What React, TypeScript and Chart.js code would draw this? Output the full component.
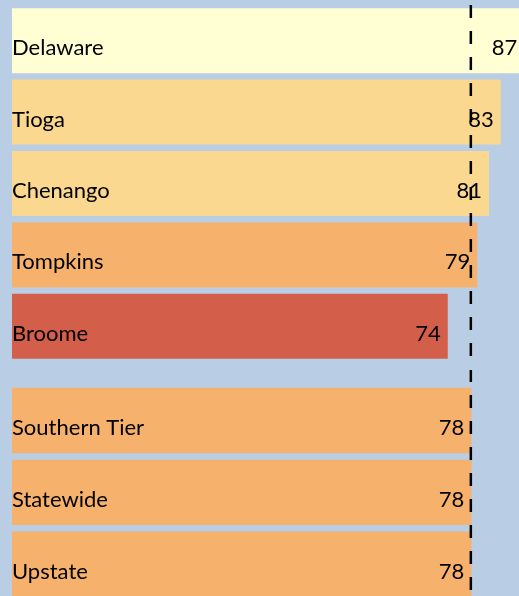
import React, { useEffect, useRef } from "react";
import { Chart, registerables } from "chart.js";

Chart.register(...registerables);

const topCategories = ["Delaware", "Tioga", "Chenango", "Tompkins", "Broome"];
const topValues = [87, 83, 81, 79, 74];
const topColors = ["#ffffd3", "#fbd88f", "#fbd88f", "#f6b26d", "#d35f4b"];

const bottomCategories = ["Southern Tier", "Statewide", "Upstate"];
const bottomValues = [78, 78, 78];
const bottomColors = ["#f6b26d", "#f6b26d", "#f6b26d"];

const referenceValue = 78;
const xMax = 90;

const BG = "#b9cde5";
const FONT = "22px Lato, 'Open Sans', sans-serif";

function makePlugin(canvasTop: number) {
  return {
    id: "labelsAndRef",
    afterDatasetsDraw(chart: any) {
      const ctx = chart.ctx;
      const meta = chart.getDatasetMeta(0);
      const ds = chart.data.datasets[0];
      const labels = chart.data.labels as string[];
      const area = chart.chartArea;
      ctx.save();
      ctx.font = FONT;
      ctx.fillStyle = "#000";
      ctx.textBaseline = "alphabetic";
      meta.data.forEach((bar: any, i: number) => {
        const y = bar.y + 14.5;
        ctx.textAlign = "left";
        ctx.fillText(labels[i], area.left, y);
        ctx.textAlign = "right";
        ctx.fillText(String(ds.data[i]), bar.x - 7, y);
      });
      // reference line
      const xs = chart.scales.x.getPixelForValue(referenceValue) - 0.5;
      const startGlobal = 5;
      const startLocal = Math.max(0, startGlobal - canvasTop);
      ctx.strokeStyle = "#000";
      ctx.lineWidth = 2.5;
      ctx.setLineDash([13, 13]);
      ctx.lineDashOffset = canvasTop + startLocal - startGlobal;
      ctx.beginPath();
      ctx.moveTo(xs, startLocal);
      ctx.lineTo(xs, chart.height);
      ctx.stroke();
      ctx.restore();
    },
  };
}

function BarPanel(props: {
  labels: string[];
  values: number[];
  colors: string[];
  top: number;
  height: number;
  padTop: number;
  padBottom: number;
}) {
  const ref = useRef<HTMLCanvasElement | null>(null);
  useEffect(() => {
    if (!ref.current) return;
    const chart = new Chart(ref.current, {
      type: "bar",
      data: {
        labels: props.labels,
        datasets: [
          {
            data: props.values,
            backgroundColor: props.colors,
            borderWidth: 0,
            categoryPercentage: 1,
            barPercentage: 0.91,
          },
        ],
      },
      options: {
        indexAxis: "y",
        animation: false,
        responsive: true,
        maintainAspectRatio: false,
        layout: { padding: { left: 12, right: 0, top: props.padTop, bottom: props.padBottom } },
        scales: {
          x: { min: 0, max: xMax, display: false, grid: { display: false } },
          y: { display: false, grid: { display: false } },
        },
        plugins: { legend: { display: false }, tooltip: { enabled: false } },
      },
      plugins: [makePlugin(props.top)],
    });
    return () => chart.destroy();
  }, []);
  return (
    <div style={{ position: "absolute", left: 0, top: props.top, width: 542, height: props.height }}>
      <canvas ref={ref} />
    </div>
  );
}

export default function App() {
  useEffect(() => {
    document.body.style.margin = "0";
    document.body.style.background = BG;
    document.body.style.overflow = "hidden";
  }, []);
  return (
    <div
      style={{
        position: "fixed",
        left: 0,
        top: 0,
        width: 519,
        height: 596,
        overflow: "hidden",
        background: BG,
      }}
    >
      <BarPanel labels={topCategories} values={topValues} colors={topColors} top={0} height={366} padTop={5} padBottom={4} />
      <BarPanel labels={bottomCategories} values={bottomValues} colors={bottomColors} top={370} height={236} padTop={14.6} padBottom={6} />
    </div>
  );
}
